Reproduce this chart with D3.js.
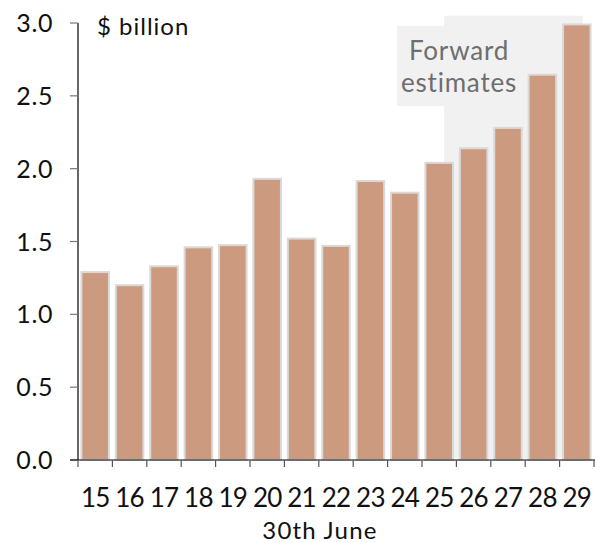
<!DOCTYPE html>
<html><head><meta charset="utf-8">
<script src="https://cdn.jsdelivr.net/npm/d3@7"></script>
<style>body{margin:0;background:#fff}svg{display:block}text{font-family:Lato,"DejaVu Sans",sans-serif;font-weight:400}</style>
</head><body>
<script>
const categories = ["15","16","17","18","19","20","21","22","23","24","25","26","27","28","29"];
const values = [1.29,1.20,1.33,1.46,1.475,1.93,1.52,1.47,1.915,1.835,2.04,2.14,2.28,2.645,2.99];
const yTicks = [0,0.5,1.0,1.5,2.0,2.5,3.0];
const forecastStart = "25", forecastEnd = "29";

const W=595,H=543;
const svg=d3.select("body").append("svg").attr("width",W).attr("height",H);
const x=d3.scaleBand().domain(categories).range([78,594]).paddingInner(0.2).paddingOuter(0.1);
const y=d3.scaleLinear().domain([0,3]).range([460,23]);
const bw=x.bandwidth(), step=x.step();

// shaded forward estimates region
const sx0=x(forecastStart)+bw*0.68, sx1=x(forecastEnd)+bw*0.72;
svg.append("rect").attr("x",sx0).attr("y",y(3.05)).attr("width",sx1-sx0).attr("height",y(0.01)-y(3.05)).attr("fill","#f1f1f1");
svg.append("rect").attr("x",397).attr("y",26).attr("width",sx0-397+1).attr("height",80).attr("fill","#f1f1f1");
svg.append("text").attr("x",459).attr("y",60).attr("text-anchor","middle").attr("font-size",26).attr("letter-spacing",0.8).attr("fill","#6e6e6e").text("Forward");
svg.append("text").attr("x",459).attr("y",92).attr("text-anchor","middle").attr("font-size",26).attr("letter-spacing",0.8).attr("fill","#6e6e6e").text("estimates");

// bars
svg.selectAll("rect.bar").data(categories).enter().append("rect").attr("class","bar")
 .attr("x",d=>x(d)).attr("width",bw)
 .attr("y",(d,i)=>y(values[i])).attr("height",(d,i)=>y(0)-y(values[i]))
 .attr("fill","#cc9a7e").attr("stroke","#d9d9d9").attr("stroke-width",2);

// y axis
svg.append("line").attr("x1",78).attr("x2",78).attr("y1",y(3)).attr("y2",y(0)).attr("stroke","#000").attr("stroke-width",1.2);
yTicks.forEach(t=>{
  svg.append("line").attr("x1",70).attr("x2",78).attr("y1",y(t)).attr("y2",y(t)).attr("stroke","#777").attr("stroke-width",1.2);
  svg.append("text").attr("x",53).attr("y",y(t)+9).attr("text-anchor","end").attr("font-size",25).attr("letter-spacing",0.6).attr("fill","#111").text(t.toFixed(1));
});
// x axis
svg.append("line").attr("x1",70).attr("x2",595).attr("y1",y(0)).attr("y2",y(0)).attr("stroke","#000").attr("stroke-width",1.2);
const bounds=categories.map(c=>x(c)-step*0.1).concat([x(categories[categories.length-1])+bw+step*0.1]);
bounds.forEach(b=>{
  svg.append("line").attr("x1",b).attr("x2",b).attr("y1",y(0)).attr("y2",y(0)+7).attr("stroke","#555").attr("stroke-width",1.2);
});
categories.forEach(c=>{
  svg.append("text").attr("x",x(c)+bw/2).attr("y",507).attr("text-anchor","middle").attr("font-size",26).attr("letter-spacing",-0.8).attr("fill","#111").text(c);
});
svg.append("text").attr("x",320).attr("y",539).attr("text-anchor","middle").attr("font-size",24).attr("letter-spacing",1.2).attr("fill","#111").text("30th June");
svg.append("text").attr("x",97).attr("y",35).attr("font-size",24).attr("letter-spacing",1).attr("fill","#111").text("$ billion");
</script>
</body></html>
